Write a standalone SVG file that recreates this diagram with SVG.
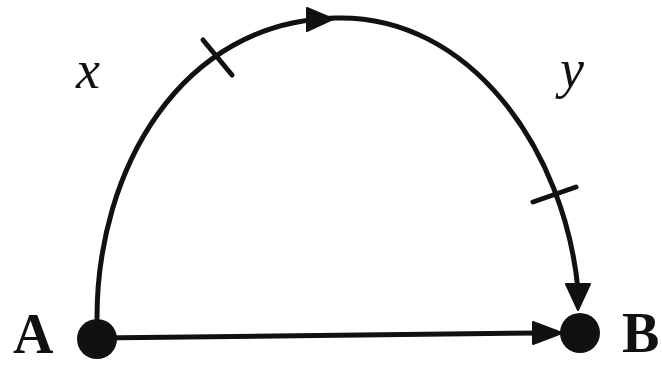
<svg xmlns="http://www.w3.org/2000/svg" width="662" height="367" viewBox="0 0 662 367">
<style>
.edge{fill:none;stroke:#111;stroke-width:5;stroke-linecap:round}
.head{fill:#111;stroke:#111;stroke-width:2;stroke-linejoin:round}
.tick{stroke:#111;stroke-width:5;stroke-linecap:round}
.dot{fill:#111}
.nlabel{font-family:'Liberation Serif','Times New Roman',serif;font-weight:bold;font-size:56px;fill:#111}
.elabel{font-family:'Liberation Serif','Times New Roman',serif;font-style:italic;font-size:54px;fill:#111}
</style>
<rect width="662" height="367" fill="#fff"/>
<g id="connectors">
  <path class="edge" d="M97,318 C97,170 180,22 335,18 C470,14 565,150 578,290"/>
  <polygon class="head" points="307,8 333,19 307,31"/>
  <polygon class="head" points="566,284 590,284 578,310"/>
  <line class="tick" x1="203" y1="40" x2="232" y2="75"/>
  <line class="tick" x1="533" y1="202" x2="576" y2="187"/>
  <path class="edge" d="M97,338 L540,333"/>
  <polygon class="head" points="533,322 562,333 533,344"/>
  <text class="elabel" x="76" y="88">x</text>
  <text class="elabel" x="560" y="87">y</text>
</g>
<g id="A">
  <circle class="dot" cx="97" cy="339" r="20"/>
  <text class="nlabel" x="13" y="353">A</text>
</g>
<g id="B">
  <circle class="dot" cx="580" cy="333" r="20"/>
  <text class="nlabel" x="622" y="352">B</text>
</g>
</svg>
